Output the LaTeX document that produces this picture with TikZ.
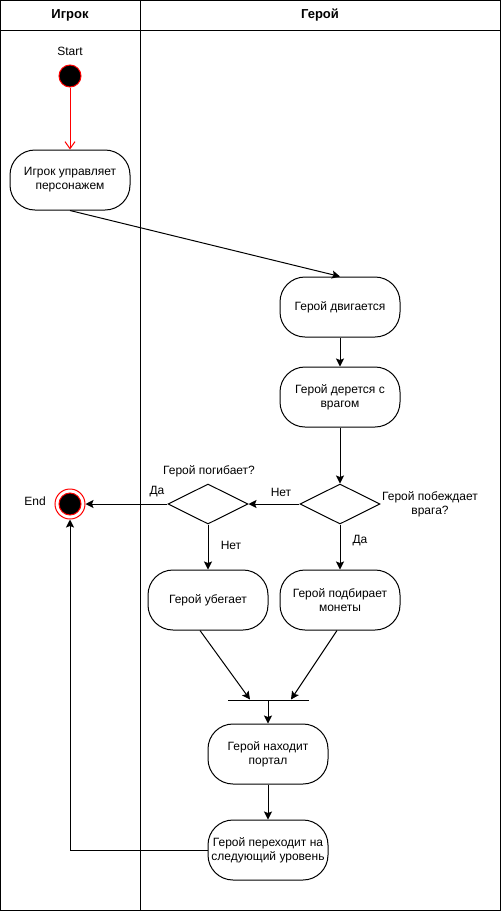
\documentclass[tikz,border=0pt]{standalone}
\usepackage{fontspec}
\setmainfont{Liberation Sans}
\usetikzlibrary{arrows.meta,shapes.geometric}

\begin{document}
\begin{tikzpicture}[
        x=1pt, y=-1pt,
        line width=1pt,
        font=\fontsize{12}{14}\selectfont,
        act-box/.style = {draw, rectangle, rounded corners=25pt, align=center,
                          minimum width=120pt, minimum height=60pt, inner sep=1pt},
        dec-elm/.style = {draw, diamond, aspect=2, minimum width=80pt,
                          minimum height=40pt, inner sep=0pt},
        bar-elm/.style = {draw, fill=black, minimum width=80pt, minimum height=0.5pt,
                          inner sep=0pt, line width=0.5pt},
        txt/.style = {inner sep=0pt, align=center},
        arr/.style = {-{Stealth[length=8pt,width=8pt,inset=1.5pt]}}
      ]
        \useasboundingbox (0,0) rectangle (501,911);

        % lanes
        \draw (0.5,0.5) rectangle (500.5,910.5);
        \draw (0.5,30) -- (500.5,30);
        \draw (140,0.5) -- (140,910.5);
        \node[txt, font=\fontsize{13}{15}\selectfont\bfseries] (lane1) at (70,15) {Игрок};
        \node[txt, font=\fontsize{13}{15}\selectfont\bfseries] (lane2) at (320,15) {Герой};

        % start / end
        \node[txt] (start-lbl) at (70,51) {Start};
        \node[circle, fill=black, draw=red, minimum size=22pt, inner sep=0pt] (start) at (70,76) {};
        \node[circle, draw=red, minimum size=30pt, inner sep=0pt] (end) at (70,504) {};
        \node[circle, fill=black, draw=red, minimum size=22pt, inner sep=0pt] (end-in) at (70,504) {};
        \node[txt] (end-lbl) at (35,501) {End};

        % activities
        \node[act-box] (ctrl) at (70,180) {Игрок управляет\\персонажем};
        \node[act-box] (move) at (340,307) {Герой двигается};
        \node[act-box] (fight) at (340,397) {Герой дерется с\\врагом};
        \node[dec-elm] (win) at (340,504) {};
        \node[dec-elm] (die) at (208,504) {};
        \node[act-box] (run) at (208,600) {Герой убегает};
        \node[act-box] (coins) at (340,600) {Герой подбирает\\монеты};
        \node[bar-elm] (bar) at (268,700) {};
        \node[act-box] (portal) at (268,754) {Герой находит\\портал};
        \node[act-box] (next) at (268,850) {Герой переходит на\\следующий уровень};

        % labels
        \node[txt] (win-lbl) at (430,504) {Герой побеждает\\врага?};
        \node[txt] (die-lbl) at (209,471) {Герой погибает?};
        \node[txt] (no1) at (281,492) {Нет};
        \node[txt] (yes1) at (360,541) {Да};
        \node[txt] (yes2) at (157,492) {Да};
        \node[txt] (no2) at (231,545) {Нет};

        \draw[draw=red, -{Straight Barb[length=7pt,width=10pt]}] (start) -- (ctrl);
        \draw[arr] (ctrl.south) -- (move.north);
        \draw[arr] (move) -- (fight);
        \draw[arr] (fight) -- (win);
        \draw[arr] (win) -- (die);
        \draw[arr] (win) -- (coins);
        \draw[arr] (die) -- (run);
        \draw[arr] (die) -- (end);
        \draw[arr] ([xshift=-8pt]run.south) -- ([xshift=-18pt]bar.north);
        \draw[arr] ([xshift=-3pt]coins.south) -- ([xshift=23pt]bar.north);
        \draw[arr] (bar) -- (portal);
        \draw[arr] (portal) -- (next);
        \draw[arr] (next.west) -| (end.south);
      \end{tikzpicture}
\end{document}
